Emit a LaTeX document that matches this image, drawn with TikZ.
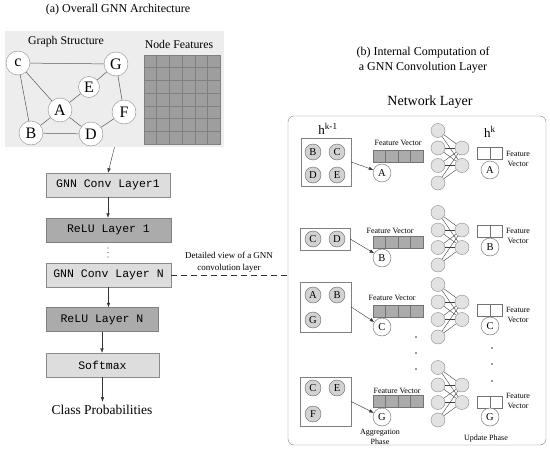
\documentclass[tikz,border=0pt]{standalone}
\usepackage{fontspec}
\setmainfont{Liberation Serif}
\setmonofont{Liberation Mono}
\usetikzlibrary{positioning,arrows.meta,calc}
\definecolor{panelgray}{HTML}{EDEDED}
\definecolor{convgray}{HTML}{DDDDDD}
\definecolor{relugray}{HTML}{ABABAB}
\definecolor{cellgray}{HTML}{9E9E9E}
\definecolor{edgegray}{HTML}{8A8A8A}
\definecolor{nbgray}{HTML}{D2D2D2}
\definecolor{unitgray}{HTML}{E2E2E2}

\begin{document}
\begin{tikzpicture}[x=1pt, y=-1pt,
>={Latex[length=4.5pt,width=3.5pt]},
gnode/.style={draw=edgegray, circle, fill=white, minimum size=24pt, inner sep=0pt, font=\fontsize{16}{16}\selectfont},
layer/.style={draw=edgegray, fill=convgray, minimum height=24pt, inner sep=0pt, font=\ttfamily\fontsize{11.5}{12}\selectfont},
relu/.style={layer, fill=relugray, draw=gray},
nbox/.style={draw=gray, fill=white, inner sep=0pt},
nbcirc/.style={draw=black!60, circle, fill=nbgray, minimum size=16pt, inner sep=0pt, font=\fontsize{10.5}{10.5}\selectfont},
tgt/.style={draw=black!60, circle, fill=white, minimum size=18pt, inner sep=0pt, font=\fontsize{10.5}{10.5}\selectfont},
unit/.style={draw=edgegray, circle, fill=unitgray, minimum size=14pt, inner sep=0pt},
fcell/.style={draw=black!55, fill=relugray, minimum width=12.5pt, minimum height=12pt, inner sep=0pt},
ocell/.style={draw=black!55, fill=white, minimum width=12.5pt, minimum height=12pt, inner sep=0pt},
small/.style={font=\fontsize{8}{10}\selectfont, align=center, inner sep=0pt},
gedge/.style={draw=black!65, line width=0.5pt},
link/.style={draw=black!75, line width=0.4pt}
]
\useasboundingbox (0,0) rectangle (550,450);

% (a) overall architecture
\node[font=\fontsize{12}{14}\selectfont] (atitle) at (118,10) {(a) Overall GNN Architecture};
\node[fill=panelgray, minimum width=219pt, minimum height=116pt, inner sep=0pt] (gbox) at (114.5,89) {};
\node[font=\fontsize{11.8}{13}\selectfont] (gslabel) at (66,42) {Graph Structure};
\node[font=\fontsize{11.8}{13}\selectfont] (nflabel) at (179,44) {Node Features};

\node[gnode] (c) at (18,63) {c};
\node[gnode] (G) at (116,64) {G};
\node[gnode, minimum size=21pt] (E) at (89,87) {E};
\node[gnode] (A) at (60,110) {A};
\node[gnode] (F) at (124,112) {F};
\node[gnode] (B) at (31,133) {B};
\node[gnode] (D) at (91,134) {D};
\draw[gedge] (c) -- (G);
\draw[gedge] (c) -- (A);
\draw[gedge] (c) -- (B);
\draw[gedge] (E) -- (G);
\draw[gedge] (A) -- (E);
\draw[gedge] (A) -- (B);
\draw[gedge] (A) -- (D);
\draw[gedge] (B) -- (D);
\draw[gedge] (D) -- (F);
\draw[gedge] (F) -- (G);

% node feature matrix
\node[fill=cellgray, draw=black!50, minimum width=76pt, minimum height=89pt, inner sep=0pt] (featgrid) at (182,99.5) {};
\foreach \i in {1,...,5}
  \draw[black!50] ($(featgrid.north west)!\i/6!(featgrid.north east)$) -- ($(featgrid.south west)!\i/6!(featgrid.south east)$);
\foreach \i in {1,...,6}
  \draw[black!50] ($(featgrid.north west)!\i/7!(featgrid.south west)$) -- ($(featgrid.north east)!\i/7!(featgrid.south east)$);

% layer stack
\node[layer, minimum width=124pt] (conv1) at (108,185) {GNN Conv Layer1};
\node[relu, minimum width=125pt] (relu1) at (108.5,230) {ReLU Layer 1};
\node[layer, minimum width=125pt] (convN) at (108.5,275) {GNN Conv Layer N};
\node[relu, minimum width=112pt] (reluN) at (102,319.5) {ReLU Layer N};
\node[layer, minimum width=113pt] (softmax) at (102.5,365) {Softmax};
\node[font=\fontsize{13.5}{15}\selectfont] (cls) at (102,410) {Class Probabilities};
\foreach \d in {248,252.5,257}
  \fill[black!70] (108,\d) circle (0.7);

\draw[->, black!80] (gbox.south) -- (conv1.north);
\draw[->, black!80] (conv1.south) -- (conv1.south |- relu1.north);
\draw[->, black!80] (convN.south) -- (convN.south |- reluN.north);
\draw[->, black!80] (reluN.south) -- (reluN.south |- softmax.north);
\draw[->, black!80] (softmax.south) -- (softmax.south |- cls.north);

% (b) internal computation
\node[font=\fontsize{12}{15}\selectfont, align=center] (btitle) at (423,60) {(b) Internal Computation of\\a GNN Convolution Layer};
\node[font=\fontsize{14}{16}\selectfont] (nllabel) at (430,102) {Network Layer};
\node[draw=gray, rounded corners=6pt, minimum width=258pt, minimum height=329pt, inner sep=0pt] (netbox) at (417,280.5) {};

\draw[black!80, dash pattern=on 6pt off 4pt] (convN.east) -- (convN.east -| netbox.west);
\node[font=\fontsize{9}{12}\selectfont, align=center] (dvlabel) at (229,262) {Detailed view of a GNN\\convolution layer};

\node[font=\fontsize{13}{14}\selectfont] (hprev) at (328,129) {h\textsuperscript{k-1}};
\node[font=\fontsize{13}{14}\selectfont] (hnext) at (490,132) {h\textsuperscript{k}};

% neighbour sets
\node[nbox, minimum width=50pt, minimum height=48pt] (nb1) at (326,162) {};
\node[nbcirc] (nb1B) at (313,152) {B};
\node[nbcirc] (nb1C) at (337,152) {C};
\node[nbcirc] (nb1D) at (313,175) {D};
\node[nbcirc] (nb1E) at (337,175) {E};

\node[nbox, minimum width=50pt, minimum height=22pt] (nb2) at (325,239) {};
\node[nbcirc] (nb2C) at (313,239) {C};
\node[nbcirc] (nb2D) at (337,239) {D};

\node[nbox, minimum width=51pt, minimum height=50pt] (nb3) at (325.5,307) {};
\node[nbcirc] (nb3A) at (313,295) {A};
\node[nbcirc] (nb3B) at (337,295) {B};
\node[nbcirc] (nb3G) at (313,320) {G};

\node[nbox, minimum width=51pt, minimum height=49pt] (nb4) at (325.5,401.5) {};
\node[nbcirc] (nb4C) at (313,388) {C};
\node[nbcirc] (nb4E) at (337,388) {E};
\node[nbcirc] (nb4F) at (313,414) {F};

% per-node aggregation and update
\foreach \b/\y/\bar/\lx/\ly/\t/\ty/\ov/\oc/\fv in {
  1/148/156/398/143/A/173/153.5/170/158.5,
  2/230/242.5/390/231/B/258/231/247/236,
  3/302/311/392/298/C/327/310/326/315,
  4/385/401.5/397/391/G/417/402.5/417/400.5}{
  \foreach \j in {0,...,3}
    \node[fcell] (fv\b-\j) at (379.25+12.5*\j,\bar) {};
  \node[small] (fl\b) at (\lx,\ly) {Feature Vector};
  \node[tgt] (t\b) at (382,\ty) {\t};
  \draw[->, black!80] (nb\b.east) -- (t\b);
  \foreach \i in {1,...,4}
    \node[unit] (in\b-\i) at (438,\y-35+17.5*\i) {};
  \foreach \o in {1,2}
    \node[unit] (out\b-\o) at (462,\y-17.5+17.5*\o) {};
  \foreach \i in {1,...,4}
    \foreach \o in {1,2}
      \draw[link] (in\b-\i) -- (out\b-\o);
  \node[ocell] (ov\b-1) at (483.75,\ov) {};
  \node[ocell] (ov\b-2) at (496.25,\ov) {};
  \node[tgt] (oc\b) at (490,\oc) {\t};
  \node[small] (ol\b) at (518,\fv) {Feature\\Vector};
}

\foreach \d in {337,353,369}
  \fill[black!80] (416,\d) circle (0.9);
\foreach \d in {348,364,381}
  \fill[black!80] (492,\d) circle (0.9);

\node[small] (aggph) at (380,437) {Aggregation\\Phase};
\node[small] (updph) at (486,439) {Update Phase};
\end{tikzpicture}
\end{document}
